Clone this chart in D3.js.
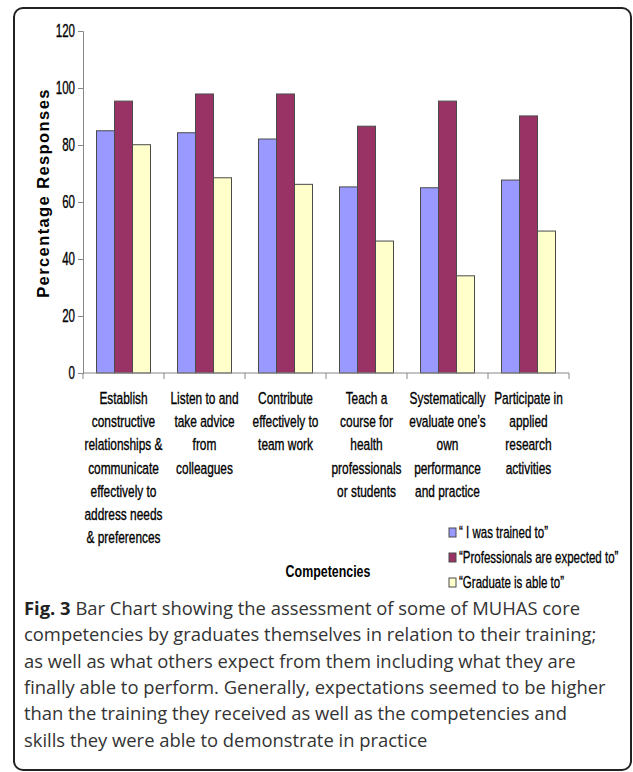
<!DOCTYPE html>
<html>
<head>
<meta charset="utf-8">
<script src="https://cdn.jsdelivr.net/npm/d3@7/dist/d3.min.js"></script>
<style>
  body { margin: 0; background: #fff; }
  svg { display: block; }
</style>
</head>
<body>
<div id="chart"></div>
<script>
var width = 633,
    height = 772;

// competencies (label lines as they wrap in the figure)
var categories = [
  ["Establish", "constructive", "relationships &", "communicate", "effectively to", "address needs", "& preferences"],
  ["Listen to and", "take advice", "from", "colleagues"],
  ["Contribute", "effectively to", "team work"],
  ["Teach a", "course for", "health", "professionals", "or students"],
  ["Systematically", "evaluate one\u2019s", "own", "performance", "and practice"],
  ["Participate in", "applied", "research", "activities"]
];

var seriesNames = ["\u201c I was trained to\u201d", "\u201cProfessionals are expected to\u201d", "\u201cGraduate is able to\u201d"];
var seriesColors = ["#9999ff", "#993366", "#ffffcc"];

var trained  = [85.0, 84.3, 82.1, 65.3, 65.0, 67.7];
var expected = [95.4, 97.9, 97.9, 86.6, 95.4, 90.2];
var able     = [80.1, 68.5, 66.2, 46.3, 34.1, 49.8];

var yTicks = [0, 20, 40, 60, 80, 100, 120];

var captionLines = [
  "Bar Chart showing the assessment of some of MUHAS core",
  "competencies by graduates themselves in relation to their training;",
  "as well as what others expect from them including what they are",
  "finally able to perform. Generally, expectations seemed to be higher",
  "than the training they received as well as the competencies and",
  "skills they were able to demonstrate in practice"
];

// no narrow font available, so squeeze Liberation Sans horizontally
var sans = "'Liberation Sans', Arial, sans-serif";
var squeeze = 0.7;

var svg = d3.select("#chart")
    .append("svg")
    .attr("width", width)
    .attr("height", height);

// frame
svg.append("rect")
    .attr("x", 14).attr("y", 8)
    .attr("width", 617).attr("height", 762)
    .attr("rx", 9)
    .attr("fill", "none")
    .attr("stroke", "#222")
    .attr("stroke-width", 2);

var x = d3.scaleBand()
    .domain(d3.range(categories.length))
    .range([83, 569]);

var xs = d3.scaleBand()
    .domain([0, 1, 2])
    .range([0, x.bandwidth()])
    .paddingOuter(0.75);

var y = d3.scaleLinear()
    .domain([0, 120])
    .range([373, 31]);

var series = [trained, expected, able];

// bars
var groups = svg.selectAll(".grp")
    .data(categories.map(function(c, i) { return i; }))
    .enter().append("g")
    .attr("transform", function(i) { return "translate(" + x(i) + ",0)"; });

groups.selectAll("rect")
    .data(function(i) { return series.map(function(s, k) { return {k: k, v: s[i]}; }); })
    .enter().append("rect")
    .attr("x", function(d) { return xs(d.k); })
    .attr("width", xs.bandwidth())
    .attr("y", function(d) { return y(d.v); })
    .attr("height", function(d) { return y(0) - y(d.v); })
    .attr("fill", function(d) { return seriesColors[d.k]; })
    .attr("stroke", "#4a4a4a")
    .attr("stroke-width", 1);

// y axis
var yAxis = svg.append("g")
    .attr("transform", "translate(83,0)")
    .call(d3.axisLeft(y).tickValues(yTicks).tickSize(5).tickPadding(4));
yAxis.select(".domain").attr("stroke", "#888");
yAxis.selectAll(".tick line").attr("stroke", "#888");
yAxis.selectAll("text")
    .attr("x", 0)
    .attr("transform", "translate(-8,0) scale(0.66,1)")
    .attr("font-family", sans)
    .attr("font-size", 17.5)
    .attr("fill", "#000")
    .attr("stroke", "#000")
    .attr("stroke-width", 0.35);

// x axis: ticks at category boundaries
var xAxis = svg.append("g").attr("transform", "translate(0,373)");
xAxis.append("line")
    .attr("x1", x.range()[0]).attr("x2", x.range()[1])
    .attr("stroke", "#888");
xAxis.selectAll(".xt")
    .data(d3.range(categories.length + 1))
    .enter().append("line")
    .attr("x1", function(i) { return x.range()[0] + i * x.step(); })
    .attr("x2", function(i) { return x.range()[0] + i * x.step(); })
    .attr("y1", 0).attr("y2", 6)
    .attr("stroke", "#888");

// category labels
svg.selectAll(".cat")
    .data(categories)
    .enter().append("g")
    .attr("transform", function(d, i) {
      return "translate(" + (x(i) + x.bandwidth() / 2) + ",0) scale(" + squeeze + ",1)";
    })
    .append("text")
    .attr("text-anchor", "middle")
    .attr("font-family", sans)
    .attr("font-size", 17)
    .attr("fill", "#000")
    .attr("stroke", "#000")
    .attr("stroke-width", 0.35)
    .selectAll("tspan")
    .data(function(lines) { return lines; })
    .enter().append("tspan")
    .attr("x", 0)
    .attr("y", function(l, j) { return 404 + j * 23.2; })
    .text(function(l) { return l; });

// axis titles
svg.append("text")
    .attr("transform", "translate(49,193) rotate(-90)")
    .attr("text-anchor", "middle")
    .attr("font-family", sans)
    .attr("font-weight", "bold")
    .attr("font-size", 16.5)
    .attr("letter-spacing", 1.4)
    .text("Percentage Responses");

svg.append("g")
    .attr("transform", "translate(328,577) scale(0.73,1)")
    .append("text")
    .attr("text-anchor", "middle")
    .attr("font-family", sans)
    .attr("font-weight", "bold")
    .attr("font-size", 17)
    .text("Competencies");

// legend
var legend = svg.selectAll(".leg")
    .data(seriesNames)
    .enter().append("g")
    .attr("transform", function(d, i) { return "translate(449," + (533 + i * 25) + ")"; });
legend.append("rect")
    .attr("x", 0).attr("y", -5)
    .attr("width", 7).attr("height", 9)
    .attr("fill", function(d, i) { return seriesColors[i]; })
    .attr("stroke", "#4a4a4a");
legend.append("g")
    .attr("transform", "translate(10,5) scale(0.72,1)")
    .append("text")
    .attr("font-family", sans)
    .attr("font-size", 16)
    .attr("stroke", "#000")
    .attr("stroke-width", 0.3)
    .text(function(d) { return d; });

// caption
var cap = svg.append("text")
    .attr("font-family", "'Open Sans', sans-serif")
    .attr("font-size", 18.4)
    .attr("fill", "#333");
captionLines.forEach(function(l, i) {
  var t = cap.append("tspan")
      .attr("x", 24)
      .attr("y", 615 + i * 26.3);
  if (i === 0) {
    t.append("tspan").attr("font-weight", "bold").attr("fill", "#222").text("Fig. 3");
    t.append("tspan").text(" " + l);
  } else {
    t.text(l);
  }
});
</script>
</body>
</html>
